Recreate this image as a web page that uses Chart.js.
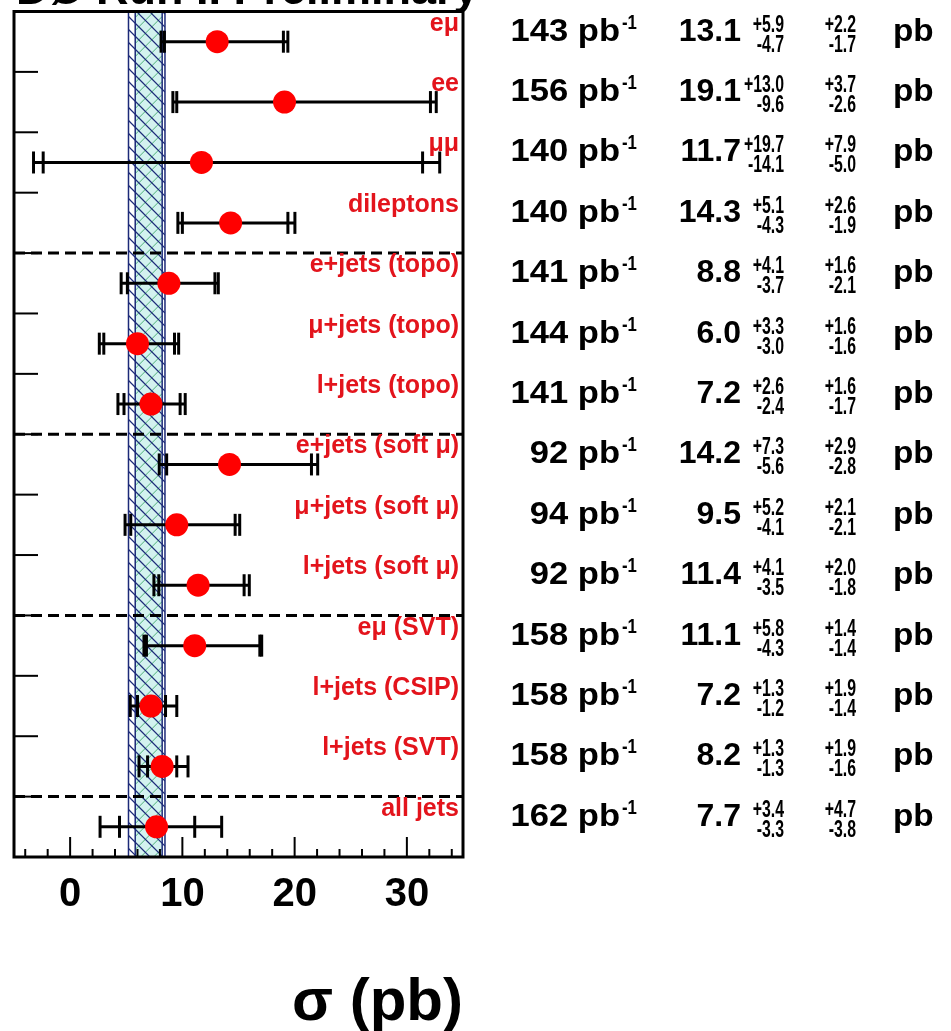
<!DOCTYPE html>
<html>
<head>
<meta charset="utf-8">
<title>ttbar cross section summary</title>
<script src="https://cdn.jsdelivr.net/npm/chart.js@4.4.1/dist/chart.umd.min.js"></script>
<style>
  html, body { margin: 0; padding: 0; background: #fff; }
  #wrap { width: 951px; height: 1031px; position: relative; }
</style>
</head>
<body>
<div id="wrap"><canvas id="xsecChart"></canvas></div>
<script>
// measurement channels, top to bottom
const channels = [
  "eμ", "ee", "μμ", "dileptons",
  "e+jets (topo)", "μ+jets (topo)", "l+jets (topo)",
  "e+jets (soft μ)", "μ+jets (soft μ)", "l+jets (soft μ)",
  "eμ (SVT)", "l+jets (CSIP)", "l+jets (SVT)", "all jets",
];
const lumi = [143, 156, 140, 140, 141, 144, 141, 92, 94, 92, 158, 158, 158, 162];
const sigma = [13.1, 19.1, 11.7, 14.3, 8.8, 6.0, 7.2, 14.2, 9.5, 11.4, 11.1, 7.2, 8.2, 7.7];
const statUp = [5.9, 13.0, 19.7, 5.1, 4.1, 3.3, 2.6, 7.3, 5.2, 4.1, 5.8, 1.3, 1.3, 3.4];
const statDn = [4.7, 9.6, 14.1, 4.3, 3.7, 3.0, 2.4, 5.6, 4.1, 3.5, 4.3, 1.2, 1.3, 3.3];
const systUp = [2.2, 3.7, 7.9, 2.6, 1.6, 1.6, 1.6, 2.9, 2.1, 2.0, 1.4, 1.9, 1.9, 4.7];
const systDn = [1.7, 2.6, 5.0, 1.9, 2.1, 1.6, 1.7, 2.8, 2.1, 1.8, 1.4, 1.4, 1.6, 3.8];

// group separators (row boundaries) and theory band
const groupBreaks = [4, 7, 10, 13];
const bandOuter = [5.2, 8.45];
const bandInner = [5.8, 8.2];
const xTickValues = [0, 10, 20, 30];

const FONT = '"Liberation Sans", Arial, Helvetica, sans-serif';

const points = sigma.map((s, i) => ({ x: s, y: i + 0.5 }));

const drawScaled = (ctx, text, px, py, sx, align) => {
  ctx.save();
  ctx.translate(px, py);
  ctx.scale(sx, 1);
  ctx.textAlign = align;
  ctx.fillText(text, 0, 0);
  ctx.restore();
};

const summaryPlugin = {
  id: "xsecSummary",
  beforeDatasetsDraw: (chart) => {
    const { ctx, chartArea: area } = chart;
    const xs = chart.scales.x;
    const ys = chart.scales.y;
    const h = area.bottom - area.top;
    ctx.save();

    // theory band
    const oL = xs.getPixelForValue(bandOuter[0]);
    const oR = xs.getPixelForValue(bandOuter[1]);
    const iL = xs.getPixelForValue(bandInner[0]);
    const iR = xs.getPixelForValue(bandInner[1]);
    ctx.fillStyle = "#d3f2ef";
    ctx.fillRect(iL, area.top, iR - iL, h);

    ctx.save();
    ctx.beginPath();
    ctx.rect(iL, area.top, iR - iL, h);
    ctx.clip();
    ctx.strokeStyle = "#4fb07a";
    ctx.lineWidth = 1;
    for (let yy = area.top - 60; yy < area.bottom + 60; yy += 13) {
      ctx.beginPath();
      ctx.moveTo(iL, yy + (iR - iL));
      ctx.lineTo(iR, yy);
      ctx.stroke();
    }
    ctx.restore();

    ctx.save();
    ctx.beginPath();
    ctx.rect(oL, area.top, oR - oL, h);
    ctx.clip();
    ctx.strokeStyle = "#1c2a78";
    ctx.lineWidth = 1.2;
    for (let yy = area.top - 60; yy < area.bottom + 60; yy += 13) {
      ctx.beginPath();
      ctx.moveTo(oL, yy);
      ctx.lineTo(oR, yy + (oR - oL));
      ctx.stroke();
    }
    ctx.restore();

    ctx.strokeStyle = "#1c2a78";
    ctx.lineWidth = 1.5;
    [oL, iL, iR, oR].forEach((px) => {
      ctx.beginPath();
      ctx.moveTo(px, area.top);
      ctx.lineTo(px, area.bottom);
      ctx.stroke();
    });

    // group separators
    ctx.strokeStyle = "#000";
    ctx.lineWidth = 3;
    ctx.setLineDash([11, 6]);
    groupBreaks.forEach((b) => {
      const py = ys.getPixelForValue(b);
      ctx.beginPath();
      ctx.moveTo(area.left, py);
      ctx.lineTo(area.right, py);
      ctx.stroke();
    });
    ctx.setLineDash([]);

    // y ticks on the left side
    ctx.lineWidth = 2;
    for (let k = 1; k < channels.length; k++) {
      const py = ys.getPixelForValue(k);
      ctx.beginPath();
      ctx.moveTo(area.left, py);
      ctx.lineTo(area.left + 24, py);
      ctx.stroke();
    }

    // x ticks inside the frame
    for (let v = xs.min + 1; v < xs.max; v += 2) {
      const px = xs.getPixelForValue(v);
      const len = v % 10 === 0 ? 20 : 8;
      ctx.beginPath();
      ctx.moveTo(px, area.bottom);
      ctx.lineTo(px, area.bottom - len);
      ctx.stroke();
    }

    // error bars: stat (inner caps) and total (outer caps)
    ctx.lineWidth = 3;
    sigma.forEach((s, i) => {
      const py = ys.getPixelForValue(i + 0.5);
      const totUp = Math.sqrt(statUp[i] ** 2 + systUp[i] ** 2);
      const totDn = Math.sqrt(statDn[i] ** 2 + systDn[i] ** 2);
      const lo = xs.getPixelForValue(s - totDn);
      const hi = xs.getPixelForValue(s + totUp);
      ctx.beginPath();
      ctx.moveTo(lo, py);
      ctx.lineTo(hi, py);
      ctx.stroke();
      [s - totDn, s - statDn[i], s + statUp[i], s + totUp].forEach((v) => {
        const px = xs.getPixelForValue(v);
        ctx.beginPath();
        ctx.moveTo(px, py - 11);
        ctx.lineTo(px, py + 11);
        ctx.stroke();
      });
    });

    ctx.restore();
  },
  afterDatasetsDraw: (chart) => {
    const { ctx, chartArea: area } = chart;
    const ys = chart.scales.y;
    ctx.save();
    // channel names
    ctx.fillStyle = "#e3141c";
    ctx.font = `bold 25px ${FONT}`;
    ctx.textAlign = "right";
    ctx.textBaseline = "alphabetic";
    channels.forEach((name, i) => {
      const py = ys.getPixelForValue(i + 0.5);
      ctx.fillText(name, area.right - 4, py - 11);
    });
    // frame
    ctx.strokeStyle = "#000";
    ctx.lineWidth = 3;
    ctx.strokeRect(area.left, area.top, area.right - area.left, area.bottom - area.top);
    ctx.restore();
  },
  afterDraw: (chart) => {
    const { ctx, chartArea: area } = chart;
    const ys = chart.scales.y;
    const r = area.right;
    ctx.save();
    ctx.fillStyle = "#000";
    ctx.textBaseline = "alphabetic";

    sigma.forEach((s, i) => {
      const cy = ys.getPixelForValue(i + 0.5);
      ctx.font = `bold 32px ${FONT}`;
      drawScaled(ctx, `${lumi[i]} pb`, r + 157, cy - 1, 1.08, "right");
      drawScaled(ctx, s.toFixed(1), r + 278, cy - 1, 1, "right");
      drawScaled(ctx, "pb", r + 430, cy - 1, 1.04, "left");

      ctx.font = `bold 21px ${FONT}`;
      drawScaled(ctx, "-1", r + 159, cy - 13, 0.8, "left");
      ctx.font = `bold 24px ${FONT}`;
      drawScaled(ctx, `+${statUp[i].toFixed(1)}`, r + 321, cy - 10, 0.66, "right");
      drawScaled(ctx, `-${statDn[i].toFixed(1)}`, r + 321, cy + 10, 0.66, "right");
      drawScaled(ctx, `+${systUp[i].toFixed(1)}`, r + 393, cy - 10, 0.66, "right");
      drawScaled(ctx, `-${systDn[i].toFixed(1)}`, r + 393, cy + 10, 0.66, "right");
    });

    // title, mostly above the top edge
    ctx.font = `bold 45px ${FONT}`;
    ctx.textAlign = "left";
    ctx.fillText("DØ Run II Preliminary", 16, 4);
    ctx.restore();
  },
};

const ctx = document.getElementById("xsecChart").getContext("2d");
new Chart(ctx, {
  type: "scatter",
  data: {
    datasets: [
      {
        label: "σ",
        data: points,
        backgroundColor: "#ff0000",
        borderColor: "#ff0000",
        borderWidth: 0,
        pointRadius: 11.5,
        pointHoverRadius: 11.5,
      },
    ],
  },
  options: {
    responsive: true,
    maintainAspectRatio: false,
    animation: false,
    devicePixelRatio: 1,
    layout: { padding: { left: 14, right: 488, top: 8, bottom: 1 } },
    scales: {
      x: {
        type: "linear",
        min: -5,
        max: 35,
        afterBuildTicks: (scale) => {
          scale.ticks = xTickValues.map((v) => ({ value: v }));
        },
        grid: { display: false, drawTicks: false },
        border: { display: false },
        ticks: {
          color: "#000",
          padding: 18,
          maxRotation: 0,
          font: { family: FONT, size: 40, weight: "bold", lineHeight: 1 },
        },
        title: {
          display: true,
          text: "σ (pb)",
          align: "end",
          color: "#000",
          font: { family: FONT, size: 60, weight: "bold", lineHeight: 0.9 },
          padding: { top: 43, bottom: 0 },
        },
      },
      y: {
        type: "linear",
        min: 0,
        max: channels.length,
        reverse: true,
        display: false,
      },
    },
    plugins: {
      legend: { display: false },
      tooltip: { enabled: false },
    },
  },
  plugins: [summaryPlugin],
});
</script>
</body>
</html>
